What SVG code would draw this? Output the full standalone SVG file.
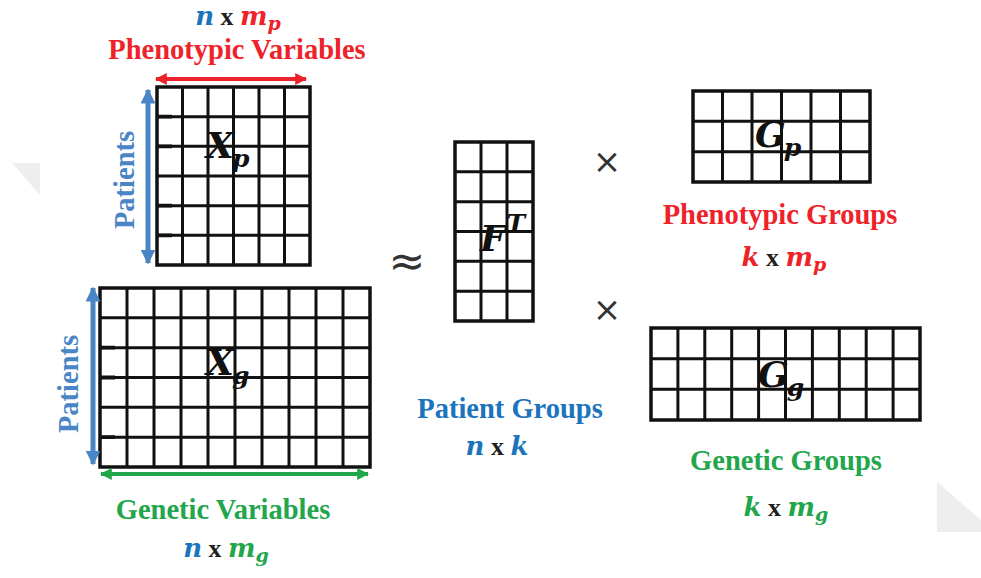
<svg xmlns="http://www.w3.org/2000/svg" width="981" height="578" viewBox="0 0 981 578">
  <defs>
    <style>
      .lbl { font-weight: bold; font-size: 28.5px; }
      .op { font-weight: bold; font-size: 26px; fill: #231f20; }
      .mi { font-weight: bold; font-style: italic; font-size: 26px; }
      .sub { font-weight: bold; font-style: italic; font-size: 19px; }
      .big { font-weight: bold; font-style: italic; font-size: 36px; fill: #111; }
      .bigsub { font-weight: bold; font-style: italic; font-size: 25px; fill: #111; }
      .sym { font-size: 34px; fill: #333; }
      .approx { font-size: 44px; fill: #333; }
      .red { fill: #ee2229; }
      .blue { fill: #1c75bc; }
      .lblue { fill: #4a86c5; }
      .green { fill: #21a64b; }
      .frame { fill: #fff; stroke: #111; stroke-width: 3.5; }
      .cells { fill: none; stroke: #111; stroke-width: 3; }
      .stub { stroke: #111; stroke-width: 3.8; }
      .shade { fill: #eeeeee; }
    </style>
    <marker id="headRed" viewBox="0 0 10 10" refX="9" refY="5" markerWidth="3" markerHeight="3.2" orient="auto-start-reverse" markerUnits="strokeWidth">
      <path d="M0,0 L10,5 L0,10 z" fill="#ee2229"/>
    </marker>
    <marker id="headBlue" viewBox="0 0 10 10" refX="9" refY="5" markerWidth="3" markerHeight="3" orient="auto-start-reverse" markerUnits="strokeWidth">
      <path d="M0,0 L10,5 L0,10 z" fill="#4a86c5"/>
    </marker>
    <marker id="headGreen" viewBox="0 0 10 10" refX="9" refY="5" markerWidth="3" markerHeight="3.2" orient="auto-start-reverse" markerUnits="strokeWidth">
      <path d="M0,0 L10,5 L0,10 z" fill="#21a64b"/>
    </marker>
  </defs>

  <rect width="981" height="578" fill="#ffffff"/>

  <!-- faint background corners -->
  <polygon class="shade" points="12,163 40,163 40,195"/>
  <polygon class="shade" points="937,482 981,520 981,532 937,532"/>

  <!-- phenotypic data matrix -->
  <g id="Xp">
    <rect class="frame" x="157" y="87" width="153" height="178"/>
    <path class="cells" d="M182.5,87V265M208,87V265M233.5,87V265M259,87V265M284.5,87V265M157,116.7H310M157,146.3H310M157,176H310M157,205.7H310M157,235.3H310"/>
    <path class="stub" d="M157,116.7H172M157,146.3H172M157,205.7H172M157,235.3H172"/>
    <text x="206" y="158" font-family="'DejaVu Serif', serif"><tspan class="big">X</tspan><tspan class="bigsub" dx="-2" dy="9">p</tspan></text>
  </g>

  <!-- genetic data matrix -->
  <g id="Xg">
    <rect class="frame" x="100" y="288" width="270" height="179"/>
    <path class="cells" d="M127,288V467M154,288V467M181,288V467M208,288V467M235,288V467M262,288V467M289,288V467M316,288V467M343,288V467M100,317.8H370M100,347.7H370M100,377.5H370M100,407.3H370M100,437.2H370"/>
    <path class="stub" d="M100,347.7H115M100,377.5H115M100,437.2H115"/>
    <text x="206" y="375" font-family="'DejaVu Serif', serif"><tspan class="big">X</tspan><tspan class="bigsub" dx="-2" dy="9">g</tspan></text>
  </g>

  <!-- patient group factor -->
  <g id="FT">
    <rect class="frame" x="455" y="142" width="78" height="179"/>
    <path class="cells" d="M481,142V321M507,142V321M455,171.8H533M455,201.7H533M455,231.5H533M455,261.3H533M455,291.2H533"/>
    <text x="480" y="251" font-family="'DejaVu Serif', serif"><tspan class="big">F</tspan><tspan class="bigsub" dx="1" dy="-19">T</tspan></text>
  </g>

  <!-- phenotypic group factor -->
  <g id="Gp">
    <rect class="frame" x="693" y="91" width="177" height="91"/>
    <path class="cells" d="M722.5,91V182M752,91V182M781.5,91V182M811,91V182M840.5,91V182M693,121.3H870M693,151.7H870"/>
    <text x="755" y="147" font-family="'DejaVu Serif', serif"><tspan class="big">G</tspan><tspan class="bigsub" dx="-2" dy="9">p</tspan></text>
  </g>

  <!-- genetic group factor -->
  <g id="Gg">
    <rect class="frame" x="651" y="328" width="269" height="92"/>
    <path class="cells" d="M677.9,328V420M704.8,328V420M731.7,328V420M758.6,328V420M785.5,328V420M812.4,328V420M839.3,328V420M866.2,328V420M893.1,328V420M651,358.7H920M651,389.3H920"/>
    <text x="758" y="387" font-family="'DejaVu Serif', serif"><tspan class="big">G</tspan><tspan class="bigsub" dx="-2" dy="9">g</tspan></text>
  </g>

  <!-- dimension arrows -->
  <g id="connectors" fill="none">
    <line x1="156" y1="79" x2="306" y2="79" stroke="#ee2229" stroke-width="4" marker-start="url(#headRed)" marker-end="url(#headRed)"/>
    <line x1="148" y1="90" x2="148" y2="263" stroke="#4a86c5" stroke-width="5" marker-start="url(#headBlue)" marker-end="url(#headBlue)"/>
    <line x1="93" y1="288" x2="93" y2="464" stroke="#4a86c5" stroke-width="5" marker-start="url(#headBlue)" marker-end="url(#headBlue)"/>
    <line x1="101" y1="474" x2="368" y2="474" stroke="#21a64b" stroke-width="4" marker-start="url(#headGreen)" marker-end="url(#headGreen)"/>
  </g>

  <!-- operators -->
  <g font-family="'DejaVu Sans', sans-serif">
    <text class="approx" x="407" y="276" text-anchor="middle">≈</text>
    <text class="sym" x="607" y="173" text-anchor="middle">×</text>
    <text class="sym" x="607" y="321" text-anchor="middle">×</text>
  </g>

  <!-- labels -->
  <g font-family="'Liberation Serif', serif">
    <text class="lbl red" x="237" y="59" text-anchor="middle">Phenotypic Variables</text>
    <text class="lbl lblue" transform="translate(134,180) rotate(-90)" text-anchor="middle">Patients</text>
    <text class="lbl lblue" transform="translate(78,384) rotate(-90)" text-anchor="middle">Patients</text>
    <text class="lbl green" x="223" y="519" text-anchor="middle">Genetic Variables</text>
    <text class="lbl blue" x="510" y="418" text-anchor="middle">Patient Groups</text>
    <text class="lbl red" x="780" y="224" text-anchor="middle">Phenotypic Groups</text>
    <text class="lbl green" x="786" y="470" text-anchor="middle">Genetic Groups</text>
  </g>

  <!-- dimension formulas -->
  <g font-family="'DejaVu Serif', serif">
    <text x="238" y="25" text-anchor="middle"><tspan class="mi blue">n</tspan><tspan class="op" font-family="'Liberation Serif', serif"> x </tspan><tspan class="mi red">m</tspan><tspan class="sub red" dy="5">p</tspan></text>
    <text x="226" y="557" text-anchor="middle"><tspan class="mi blue">n</tspan><tspan class="op" font-family="'Liberation Serif', serif"> x </tspan><tspan class="mi green">m</tspan><tspan class="sub green" dy="5">g</tspan></text>
    <text x="497" y="455" text-anchor="middle"><tspan class="mi blue">n</tspan><tspan class="op" font-family="'Liberation Serif', serif"> x </tspan><tspan class="mi blue">k</tspan></text>
    <text x="784" y="266" text-anchor="middle"><tspan class="mi red">k</tspan><tspan class="op" font-family="'Liberation Serif', serif"> x </tspan><tspan class="mi red">m</tspan><tspan class="sub red" dy="5">p</tspan></text>
    <text x="786" y="516" text-anchor="middle"><tspan class="mi green">k</tspan><tspan class="op" font-family="'Liberation Serif', serif"> x </tspan><tspan class="mi green">m</tspan><tspan class="sub green" dy="5">g</tspan></text>
  </g>
</svg>
